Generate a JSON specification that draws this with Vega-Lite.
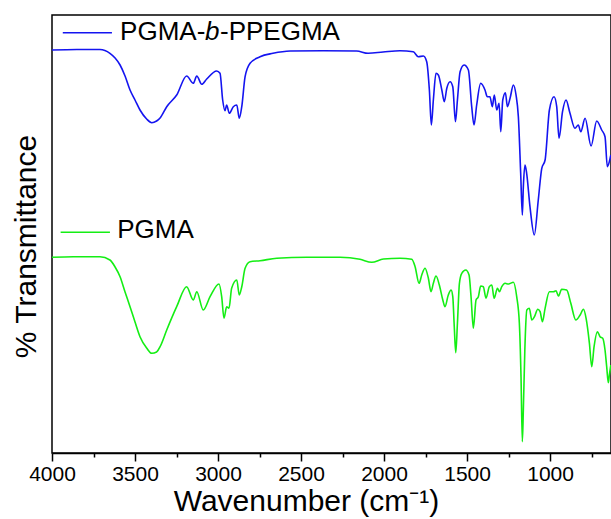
{
  "$schema": "https://vega.github.io/schema/vega-lite/v6.json",
  "width": 559,
  "height": 438,
  "autosize": {"type": "none"},
  "padding": {"left": 52, "top": 15, "right": 0, "bottom": 66},
  "background": "white",
  "config": {"view": {"stroke": "black", "strokeWidth": 1.5}, "font": "Liberation Sans"},
  "datasets": {
    "spectra": [
      {"series":"PGMA-b-PPEGMA","wn":4000,"T":405},
      {"series":"PGMA-b-PPEGMA","wn":3850,"T":405.5},
      {"series":"PGMA-b-PPEGMA","wn":3711,"T":405.5},
      {"series":"PGMA-b-PPEGMA","wn":3651,"T":401.7},
      {"series":"PGMA-b-PPEGMA","wn":3620,"T":397},
      {"series":"PGMA-b-PPEGMA","wn":3590,"T":390},
      {"series":"PGMA-b-PPEGMA","wn":3560,"T":379},
      {"series":"PGMA-b-PPEGMA","wn":3530,"T":365},
      {"series":"PGMA-b-PPEGMA","wn":3500,"T":355},
      {"series":"PGMA-b-PPEGMA","wn":3470,"T":345},
      {"series":"PGMA-b-PPEGMA","wn":3430,"T":336},
      {"series":"PGMA-b-PPEGMA","wn":3399,"T":332.3},
      {"series":"PGMA-b-PPEGMA","wn":3370,"T":334},
      {"series":"PGMA-b-PPEGMA","wn":3349,"T":337},
      {"series":"PGMA-b-PPEGMA","wn":3309,"T":348.3},
      {"series":"PGMA-b-PPEGMA","wn":3249,"T":360},
      {"series":"PGMA-b-PPEGMA","wn":3189,"T":379},
      {"series":"PGMA-b-PPEGMA","wn":3149,"T":371.7},
      {"series":"PGMA-b-PPEGMA","wn":3128,"T":379},
      {"series":"PGMA-b-PPEGMA","wn":3098,"T":370.7},
      {"series":"PGMA-b-PPEGMA","wn":3068,"T":376},
      {"series":"PGMA-b-PPEGMA","wn":3008,"T":384},
      {"series":"PGMA-b-PPEGMA","wn":2988,"T":381.7},
      {"series":"PGMA-b-PPEGMA","wn":2972,"T":355},
      {"series":"PGMA-b-PPEGMA","wn":2958,"T":344.3},
      {"series":"PGMA-b-PPEGMA","wn":2948,"T":350},
      {"series":"PGMA-b-PPEGMA","wn":2932,"T":341.7},
      {"series":"PGMA-b-PPEGMA","wn":2908,"T":348.3},
      {"series":"PGMA-b-PPEGMA","wn":2887,"T":350},
      {"series":"PGMA-b-PPEGMA","wn":2872,"T":336.7},
      {"series":"PGMA-b-PPEGMA","wn":2857,"T":348.3},
      {"series":"PGMA-b-PPEGMA","wn":2837,"T":378.3},
      {"series":"PGMA-b-PPEGMA","wn":2807,"T":391.7},
      {"series":"PGMA-b-PPEGMA","wn":2747,"T":398.3},
      {"series":"PGMA-b-PPEGMA","wn":2669,"T":401.7},
      {"series":"PGMA-b-PPEGMA","wn":2566,"T":404},
      {"series":"PGMA-b-PPEGMA","wn":2367,"T":404.3},
      {"series":"PGMA-b-PPEGMA","wn":2165,"T":404},
      {"series":"PGMA-b-PPEGMA","wn":2096,"T":401.7},
      {"series":"PGMA-b-PPEGMA","wn":2006,"T":403},
      {"series":"PGMA-b-PPEGMA","wn":1904,"T":404.3},
      {"series":"PGMA-b-PPEGMA","wn":1824,"T":403.3},
      {"series":"PGMA-b-PPEGMA","wn":1794,"T":398.3},
      {"series":"PGMA-b-PPEGMA","wn":1763,"T":399},
      {"series":"PGMA-b-PPEGMA","wn":1743,"T":393.3},
      {"series":"PGMA-b-PPEGMA","wn":1727,"T":365},
      {"series":"PGMA-b-PPEGMA","wn":1715,"T":330},
      {"series":"PGMA-b-PPEGMA","wn":1703,"T":355},
      {"series":"PGMA-b-PPEGMA","wn":1687,"T":381.7},
      {"series":"PGMA-b-PPEGMA","wn":1673,"T":380},
      {"series":"PGMA-b-PPEGMA","wn":1652,"T":365},
      {"series":"PGMA-b-PPEGMA","wn":1637,"T":353.3},
      {"series":"PGMA-b-PPEGMA","wn":1622,"T":366.7},
      {"series":"PGMA-b-PPEGMA","wn":1602,"T":373.3},
      {"series":"PGMA-b-PPEGMA","wn":1586,"T":368.3},
      {"series":"PGMA-b-PPEGMA","wn":1570,"T":333.3},
      {"series":"PGMA-b-PPEGMA","wn":1558,"T":355},
      {"series":"PGMA-b-PPEGMA","wn":1542,"T":383.3},
      {"series":"PGMA-b-PPEGMA","wn":1518,"T":390},
      {"series":"PGMA-b-PPEGMA","wn":1492,"T":385},
      {"series":"PGMA-b-PPEGMA","wn":1472,"T":348.3},
      {"series":"PGMA-b-PPEGMA","wn":1458,"T":330},
      {"series":"PGMA-b-PPEGMA","wn":1442,"T":350},
      {"series":"PGMA-b-PPEGMA","wn":1418,"T":371.7},
      {"series":"PGMA-b-PPEGMA","wn":1392,"T":365},
      {"series":"PGMA-b-PPEGMA","wn":1378,"T":358.3},
      {"series":"PGMA-b-PPEGMA","wn":1362,"T":358.3},
      {"series":"PGMA-b-PPEGMA","wn":1348,"T":348.3},
      {"series":"PGMA-b-PPEGMA","wn":1336,"T":360},
      {"series":"PGMA-b-PPEGMA","wn":1321,"T":345},
      {"series":"PGMA-b-PPEGMA","wn":1307,"T":351.7},
      {"series":"PGMA-b-PPEGMA","wn":1297,"T":323.3},
      {"series":"PGMA-b-PPEGMA","wn":1285,"T":355},
      {"series":"PGMA-b-PPEGMA","wn":1269,"T":362.3},
      {"series":"PGMA-b-PPEGMA","wn":1257,"T":348.3},
      {"series":"PGMA-b-PPEGMA","wn":1241,"T":356.7},
      {"series":"PGMA-b-PPEGMA","wn":1221,"T":370},
      {"series":"PGMA-b-PPEGMA","wn":1205,"T":360},
      {"series":"PGMA-b-PPEGMA","wn":1191,"T":338.3},
      {"series":"PGMA-b-PPEGMA","wn":1177,"T":281.7},
      {"series":"PGMA-b-PPEGMA","wn":1167,"T":240},
      {"series":"PGMA-b-PPEGMA","wn":1161,"T":268.3},
      {"series":"PGMA-b-PPEGMA","wn":1151,"T":290},
      {"series":"PGMA-b-PPEGMA","wn":1141,"T":281.7},
      {"series":"PGMA-b-PPEGMA","wn":1121,"T":248.3},
      {"series":"PGMA-b-PPEGMA","wn":1095,"T":220},
      {"series":"PGMA-b-PPEGMA","wn":1071,"T":255},
      {"series":"PGMA-b-PPEGMA","wn":1050,"T":286.7},
      {"series":"PGMA-b-PPEGMA","wn":1030,"T":295},
      {"series":"PGMA-b-PPEGMA","wn":1004,"T":345},
      {"series":"PGMA-b-PPEGMA","wn":976,"T":358.3},
      {"series":"PGMA-b-PPEGMA","wn":960,"T":348.3},
      {"series":"PGMA-b-PPEGMA","wn":946,"T":316.7},
      {"series":"PGMA-b-PPEGMA","wn":925,"T":343.3},
      {"series":"PGMA-b-PPEGMA","wn":904,"T":355},
      {"series":"PGMA-b-PPEGMA","wn":880,"T":341.7},
      {"series":"PGMA-b-PPEGMA","wn":850,"T":326.7},
      {"series":"PGMA-b-PPEGMA","wn":830,"T":330},
      {"series":"PGMA-b-PPEGMA","wn":815,"T":323.3},
      {"series":"PGMA-b-PPEGMA","wn":789,"T":336.7},
      {"series":"PGMA-b-PPEGMA","wn":753,"T":309},
      {"series":"PGMA-b-PPEGMA","wn":719,"T":334},
      {"series":"PGMA-b-PPEGMA","wn":689,"T":325},
      {"series":"PGMA-b-PPEGMA","wn":669,"T":318.3},
      {"series":"PGMA-b-PPEGMA","wn":655,"T":288.3},
      {"series":"PGMA-b-PPEGMA","wn":643,"T":293.3},
      {"series":"PGMA-b-PPEGMA","wn":634,"T":300},
      {"series":"PGMA","wn":4000,"T":197.7},
      {"series":"PGMA","wn":3872,"T":198.3},
      {"series":"PGMA","wn":3711,"T":198.3},
      {"series":"PGMA","wn":3651,"T":195},
      {"series":"PGMA","wn":3620,"T":188},
      {"series":"PGMA","wn":3590,"T":178.3},
      {"series":"PGMA","wn":3560,"T":163},
      {"series":"PGMA","wn":3530,"T":148.3},
      {"series":"PGMA","wn":3500,"T":133},
      {"series":"PGMA","wn":3470,"T":118.3},
      {"series":"PGMA","wn":3430,"T":107},
      {"series":"PGMA","wn":3399,"T":101.7},
      {"series":"PGMA","wn":3370,"T":103},
      {"series":"PGMA","wn":3349,"T":108.3},
      {"series":"PGMA","wn":3309,"T":125},
      {"series":"PGMA","wn":3249,"T":148.3},
      {"series":"PGMA","wn":3189,"T":168.3},
      {"series":"PGMA","wn":3149,"T":155},
      {"series":"PGMA","wn":3128,"T":163.3},
      {"series":"PGMA","wn":3089,"T":145},
      {"series":"PGMA","wn":3048,"T":158.3},
      {"series":"PGMA","wn":2994,"T":171},
      {"series":"PGMA","wn":2978,"T":158.3},
      {"series":"PGMA","wn":2964,"T":136.7},
      {"series":"PGMA","wn":2948,"T":148.3},
      {"series":"PGMA","wn":2934,"T":146.7},
      {"series":"PGMA","wn":2918,"T":166.7},
      {"series":"PGMA","wn":2887,"T":175},
      {"series":"PGMA","wn":2872,"T":160},
      {"series":"PGMA","wn":2857,"T":168.3},
      {"series":"PGMA","wn":2837,"T":186.7},
      {"series":"PGMA","wn":2807,"T":193.3},
      {"series":"PGMA","wn":2747,"T":194.3},
      {"series":"PGMA","wn":2646,"T":196.7},
      {"series":"PGMA","wn":2466,"T":197.7},
      {"series":"PGMA","wn":2265,"T":197.7},
      {"series":"PGMA","wn":2145,"T":195.7},
      {"series":"PGMA","wn":2074,"T":192.7},
      {"series":"PGMA","wn":2004,"T":196},
      {"series":"PGMA","wn":1904,"T":196.7},
      {"series":"PGMA","wn":1833,"T":195.7},
      {"series":"PGMA","wn":1813,"T":188.3},
      {"series":"PGMA","wn":1789,"T":171.7},
      {"series":"PGMA","wn":1773,"T":180},
      {"series":"PGMA","wn":1753,"T":186.7},
      {"series":"PGMA","wn":1733,"T":176.7},
      {"series":"PGMA","wn":1717,"T":163.3},
      {"series":"PGMA","wn":1703,"T":171.7},
      {"series":"PGMA","wn":1687,"T":179},
      {"series":"PGMA","wn":1667,"T":170},
      {"series":"PGMA","wn":1646,"T":155},
      {"series":"PGMA","wn":1633,"T":148.3},
      {"series":"PGMA","wn":1613,"T":160},
      {"series":"PGMA","wn":1596,"T":165},
      {"series":"PGMA","wn":1586,"T":158.3},
      {"series":"PGMA","wn":1577,"T":128.3},
      {"series":"PGMA","wn":1568,"T":102.3},
      {"series":"PGMA","wn":1558,"T":131.7},
      {"series":"PGMA","wn":1546,"T":171.7},
      {"series":"PGMA","wn":1532,"T":181.7},
      {"series":"PGMA","wn":1508,"T":185},
      {"series":"PGMA","wn":1488,"T":180},
      {"series":"PGMA","wn":1476,"T":158.3},
      {"series":"PGMA","wn":1462,"T":126.7},
      {"series":"PGMA","wn":1446,"T":155},
      {"series":"PGMA","wn":1432,"T":158.3},
      {"series":"PGMA","wn":1418,"T":169},
      {"series":"PGMA","wn":1402,"T":168.3},
      {"series":"PGMA","wn":1386,"T":156.7},
      {"series":"PGMA","wn":1366,"T":168.3},
      {"series":"PGMA","wn":1351,"T":170},
      {"series":"PGMA","wn":1337,"T":156.7},
      {"series":"PGMA","wn":1317,"T":166.7},
      {"series":"PGMA","wn":1305,"T":163.3},
      {"series":"PGMA","wn":1291,"T":168.3},
      {"series":"PGMA","wn":1271,"T":171.7},
      {"series":"PGMA","wn":1251,"T":171},
      {"series":"PGMA","wn":1221,"T":172.7},
      {"series":"PGMA","wn":1201,"T":158.3},
      {"series":"PGMA","wn":1185,"T":131.7},
      {"series":"PGMA","wn":1175,"T":78.3},
      {"series":"PGMA","wn":1167,"T":13.3},
      {"series":"PGMA","wn":1161,"T":45},
      {"series":"PGMA","wn":1152,"T":105},
      {"series":"PGMA","wn":1140,"T":145},
      {"series":"PGMA","wn":1125,"T":146.7},
      {"series":"PGMA","wn":1110,"T":135},
      {"series":"PGMA","wn":1094,"T":138.3},
      {"series":"PGMA","wn":1074,"T":145.7},
      {"series":"PGMA","wn":1060,"T":143.3},
      {"series":"PGMA","wn":1046,"T":133.3},
      {"series":"PGMA","wn":1030,"T":146.7},
      {"series":"PGMA","wn":1004,"T":163.3},
      {"series":"PGMA","wn":980,"T":163.3},
      {"series":"PGMA","wn":964,"T":164.3},
      {"series":"PGMA","wn":950,"T":159},
      {"series":"PGMA","wn":930,"T":165.7},
      {"series":"PGMA","wn":900,"T":165},
      {"series":"PGMA","wn":875,"T":151.7},
      {"series":"PGMA","wn":845,"T":135},
      {"series":"PGMA","wn":819,"T":140},
      {"series":"PGMA","wn":799,"T":145.7},
      {"series":"PGMA","wn":783,"T":136.7},
      {"series":"PGMA","wn":763,"T":111.7},
      {"series":"PGMA","wn":749,"T":88.3},
      {"series":"PGMA","wn":735,"T":108.3},
      {"series":"PGMA","wn":715,"T":123.3},
      {"series":"PGMA","wn":699,"T":118.3},
      {"series":"PGMA","wn":683,"T":116.7},
      {"series":"PGMA","wn":669,"T":105},
      {"series":"PGMA","wn":659,"T":88.3},
      {"series":"PGMA","wn":649,"T":72.3},
      {"series":"PGMA","wn":643,"T":80},
      {"series":"PGMA","wn":634,"T":90}
    ],
    "key": [
      {"series":"PGMA-b-PPEGMA","wn":3935,"T":422.3},
      {"series":"PGMA-b-PPEGMA","wn":3639,"T":422.3},
      {"series":"PGMA","wn":3948,"T":222.7},
      {"series":"PGMA","wn":3651,"T":222.7}
    ],
    "labels": [
      {"part":"normal","wn":3590,"T":415,"txt":"PGMA-"},
      {"part":"italic","wn":3078,"T":415,"txt":"b"},
      {"part":"normal","wn":2988,"T":415,"txt":"-PPEGMA"},
      {"part":"normal","wn":3607,"T":216.7,"txt":"PGMA"}
    ]
  },
  "layer": [
    {
      "data": {"name": "spectra"},
      "mark": {"type": "line", "strokeWidth": 1.6, "clip": true, "interpolate": "monotone"},
      "encoding": {
        "x": {
          "field": "wn", "type": "quantitative",
          "scale": {"domain": [633, 4000], "reverse": true, "nice": false, "zero": false},
          "axis": {
            "values": [4000, 3750, 3500, 3250, 3000, 2750, 2500, 2250, 2000, 1750, 1500, 1250, 1000, 750],
            "format": "d",
            "labelExpr": "datum.value % 500 === 0 ? datum.label : ''",
            "tickSize": {"expr": "datum.value % 500 === 0 ? 8 : 4"},
            "labelFlush": false,
            "labelOverlap": false,
            "labelFontSize": 21,
            "labelFont": "Liberation Sans",
            "labelColor": "black",
            "labelPadding": 2,
            "tickColor": "black",
            "tickWidth": 1.5,
            "domainColor": "black",
            "domainWidth": 1.5,
            "grid": false,
            "title": "Wavenumber (cm⁻¹)",
            "titleFont": "Liberation Sans",
            "titleFontSize": 30,
            "titleFontWeight": "normal",
            "titleColor": "black",
            "titleX": 254,
            "titleY": 57,
            "titleBaseline": "alphabetic",
            "titleAlign": "center"
          }
        },
        "y": {
          "field": "T", "type": "quantitative",
          "scale": {"domain": [2, 440], "nice": false, "zero": false},
          "axis": {
            "labels": false, "ticks": false, "domain": false, "grid": false,
            "title": "% Transmittance",
            "titleFont": "Liberation Sans",
            "titleFontSize": 30,
            "titleFontWeight": "normal",
            "titleColor": "black",
            "titleAngle": -90,
            "titleX": -17,
            "titleY": 231,
            "titleBaseline": "alphabetic",
            "titleAlign": "center"
          }
        },
        "color": {
          "field": "series", "type": "nominal",
          "scale": {"domain": ["PGMA-b-PPEGMA", "PGMA"], "range": ["#1414f0", "#14ee14"]},
          "legend": null
        }
      }
    },
    {
      "data": {"name": "key"},
      "mark": {"type": "line", "strokeWidth": 1.6},
      "encoding": {
        "x": {"field": "wn", "type": "quantitative"},
        "y": {"field": "T", "type": "quantitative"},
        "color": {"field": "series", "type": "nominal", "legend": null}
      }
    },
    {
      "data": {"name": "labels"},
      "transform": [{"filter": "datum.part === 'normal'"}],
      "mark": {"type": "text", "align": "left", "baseline": "alphabetic", "fontSize": 26, "font": "Liberation Sans", "color": "black"},
      "encoding": {
        "x": {"field": "wn", "type": "quantitative"},
        "y": {"field": "T", "type": "quantitative"},
        "text": {"field": "txt"}
      }
    },
    {
      "data": {"name": "labels"},
      "transform": [{"filter": "datum.part === 'italic'"}],
      "mark": {"type": "text", "align": "left", "baseline": "alphabetic", "fontSize": 26, "font": "Liberation Sans", "fontStyle": "italic", "color": "black"},
      "encoding": {
        "x": {"field": "wn", "type": "quantitative"},
        "y": {"field": "T", "type": "quantitative"},
        "text": {"field": "txt"}
      }
    }
  ]
}
